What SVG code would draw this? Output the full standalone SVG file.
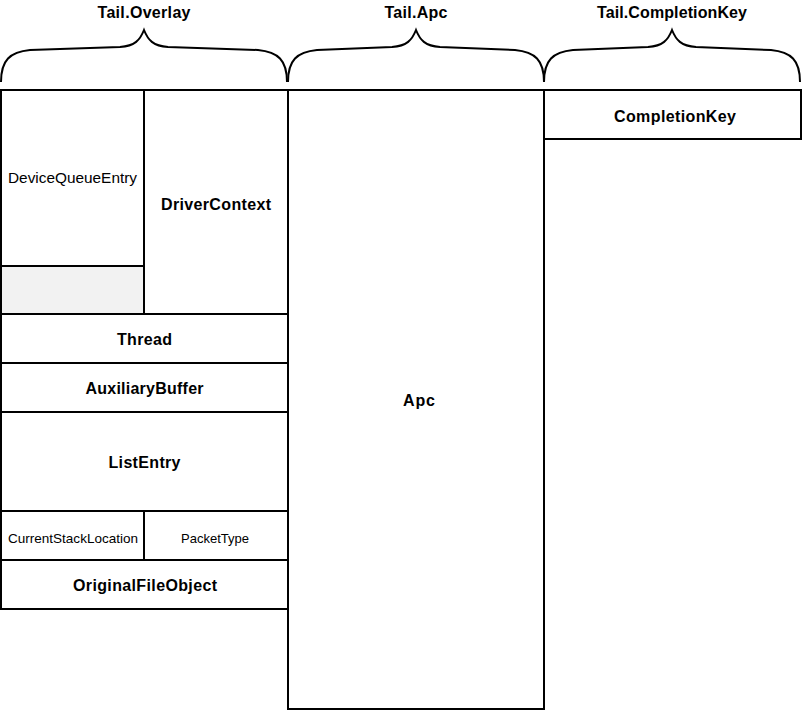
<svg xmlns="http://www.w3.org/2000/svg" width="803" height="711" viewBox="0 0 803 711">
<style>
.box{fill:#ffffff;stroke:#000000;stroke-width:2}
.gray{fill:#f2f2f2;stroke:#000000;stroke-width:2}
.brace{fill:none;stroke:#000000;stroke-width:2}
text{font-family:"Liberation Sans",Arial,sans-serif;fill:#000000;text-anchor:middle}
.b{font-weight:bold;font-size:16px}
.t{font-weight:bold;font-size:16px}
.m{font-size:14.5px}
.s{font-size:13px}
</style>
<rect width="803" height="711" fill="#ffffff"/>
<g id="braces">
<g id="brace-overlay">
<path class="brace" d="M1,82 C1,60 10,52 30,50 L120,47 C135,46 140,40 144,30 C148,40 153,46 168,47 L258,50 C278,52 287,60 287,82"/>
<text class="t" x="144" y="18" textLength="93" lengthAdjust="spacing">Tail.Overlay</text>
</g>
<g id="brace-apc">
<path class="brace" d="M288,82 C288,60 297,52 317,50 L392,47 C407,46 412,40 416,30 C420,40 425,46 440,47 L515,50 C535,52 544,60 544,82"/>
<text class="t" x="416" y="18" textLength="63" lengthAdjust="spacing">Tail.Apc</text>
</g>
<g id="brace-completionkey">
<path class="brace" d="M544,82 C544,60 553,52 573,50 L648,47 C663,46 668,40 672,30 C676,40 681,46 696,47 L771,50 C791,52 800,60 800,82"/>
<text class="t" x="672" y="18" textLength="150" lengthAdjust="spacing">Tail.CompletionKey</text>
</g>
</g>
<g id="DeviceQueueEntry">
<rect class="box" x="1" y="90" width="143" height="176"/>
<text class="m" x="72.5" y="183" textLength="129" lengthAdjust="spacingAndGlyphs">DeviceQueueEntry</text>
</g>
<g id="Padding">
<rect class="gray" x="1" y="266" width="143" height="48"/>
</g>
<g id="DriverContext">
<rect class="box" x="144" y="90" width="144" height="224"/>
<text class="b" x="216" y="210" textLength="110" lengthAdjust="spacing">DriverContext</text>
</g>
<g id="Thread">
<rect class="box" x="1" y="314" width="287" height="49"/>
<text class="b" x="144.5" y="345" textLength="55" lengthAdjust="spacing">Thread</text>
</g>
<g id="AuxiliaryBuffer">
<rect class="box" x="1" y="363" width="287" height="49"/>
<text class="b" x="144.5" y="394" textLength="118" lengthAdjust="spacing">AuxiliaryBuffer</text>
</g>
<g id="ListEntry">
<rect class="box" x="1" y="412" width="287" height="99"/>
<text class="b" x="144.5" y="468" textLength="72" lengthAdjust="spacing">ListEntry</text>
</g>
<g id="CurrentStackLocation">
<rect class="box" x="1" y="511" width="143" height="49"/>
<text class="s" x="73" y="543" textLength="130" lengthAdjust="spacingAndGlyphs">CurrentStackLocation</text>
</g>
<g id="PacketType">
<rect class="box" x="144" y="511" width="144" height="49"/>
<text class="s" x="215" y="543" textLength="68" lengthAdjust="spacingAndGlyphs">PacketType</text>
</g>
<g id="OriginalFileObject">
<rect class="box" x="1" y="560" width="287" height="49"/>
<text class="b" x="145" y="591" textLength="144" lengthAdjust="spacing">OriginalFileObject</text>
</g>
<g id="Apc">
<rect class="box" x="288" y="90" width="256" height="619"/>
<text class="b" x="419" y="406" textLength="32" lengthAdjust="spacing">Apc</text>
</g>
<g id="CompletionKey">
<rect class="box" x="544" y="90" width="257" height="49"/>
<text class="b" x="675" y="122" textLength="122" lengthAdjust="spacing">CompletionKey</text>
</g>
<g id="connectors"></g>
</svg>
